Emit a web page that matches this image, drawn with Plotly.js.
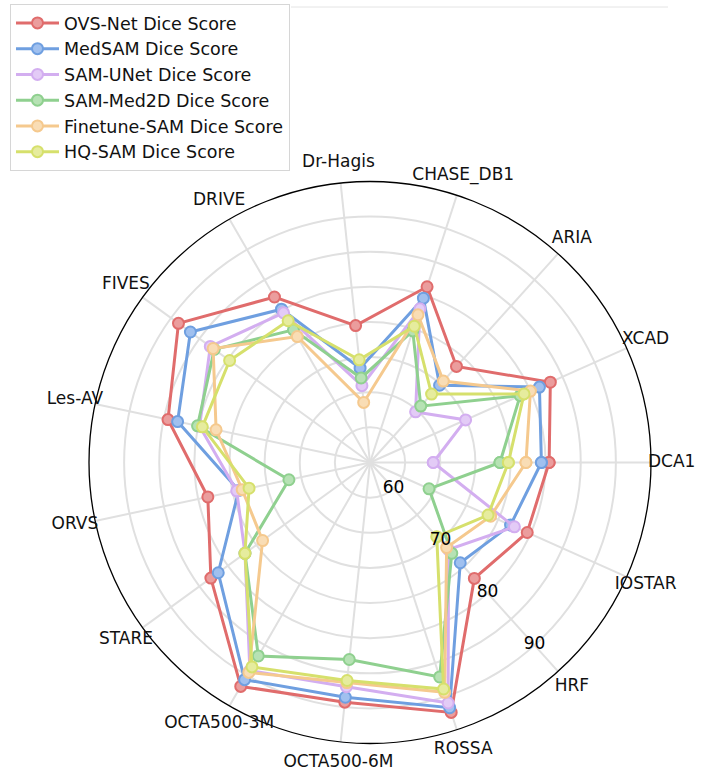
<!DOCTYPE html>
<html>
<head>
<meta charset="utf-8">
<script src="https://cdn.plot.ly/plotly-3.0.1.min.js"></script>
<style>html,body{margin:0;padding:0;background:#fff;}#chart{width:710px;height:775px;}</style>
</head>
<body>
<div id="chart"></div>
<script>
const categories = ["DCA1","XCAD","ARIA","CHASE_DB1","Dr-Hagis","DRIVE","FIVES","Les-AV","ORVS","STARE","OCTA500-3M","OCTA500-6M","ROSSA","HRF","IOSTAR"];

const ovsNet      = [80.5, 83.1, 73.4, 81.3, 74.6, 82.2, 88.7, 84.4, 78.6, 83.0, 91.8, 89.3, 92.4, 77.2, 79.5];
const medSAM      = [79.4, 81.4, 69.8, 79.6, 68.5, 80.2, 86.6, 83.0, 74.1, 81.7, 90.7, 88.6, 91.7, 74.2, 76.9];
const samUNet     = [64.0, 69.9, 64.7, 78.0, 66.0, 79.6, 83.1, 79.8, 74.4, 77.0, 89.2, 87.1, 91.0, 71.7, 77.5];
const samMed2D    = [73.5, 78.4, 65.8, 74.7, 67.1, 76.8, 82.4, 80.1, 66.8, 77.0, 86.8, 83.2, 87.1, 72.4, 64.2];
const finetuneSAM = [77.2, 80.0, 70.6, 77.1, 63.6, 75.7, 82.6, 77.4, 73.6, 73.9, 89.5, 86.5, 89.4, 71.3, 73.8];
const hqSAM       = [74.7, 79.0, 68.1, 75.4, 69.7, 78.3, 79.7, 79.4, 72.6, 77.0, 88.6, 86.2, 88.9, 69.2, 73.4];

const seriesNames = ["OVS-Net Dice Score","MedSAM Dice Score","SAM-UNet Dice Score","SAM-Med2D Dice Score","Finetune-SAM Dice Score","HQ-SAM Dice Score"];
const seriesValues = [ovsNet, medSAM, samUNet, samMed2D, finetuneSAM, hqSAM];
const lineColors = ["#e06c6c","#6f9fe0","#d3aef0","#8fd08f","#f5c98e","#d6e06c"];
const fillColors = ["#eb9d9d","#a0c0ef","#e3cbf6","#b6e2b4","#f9ddb5","#e6ec9e"];

const radialGrid = [60, 65, 70, 75, 80, 85, 90];
const radialLabels = [60, 70, 80, 90];
const radialLabelCategory = "HRF";

const R_MIN = 55, R_MAX = 95;

const traces = seriesValues.map((vals, i) => ({
  type: "scatterpolar",
  subplot: "polar",
  mode: "lines+markers",
  name: seriesNames[i],
  legendgroup: "g" + i,
  r: vals.concat([vals[0]]),
  theta: categories.concat([categories[0]]),
  line: {color: lineColors[i], width: 3},
  marker: {size: 11, color: fillColors[i], line: {color: lineColors[i], width: 2}},
  cliponaxis: false,
  hoverinfo: "skip"
}));

// radial tick labels, centred on the HRF spoke (as in the reference)
traces.push({
  type: "scatterpolar",
  subplot: "polar",
  mode: "text",
  r: radialLabels,
  theta: radialLabels.map(() => radialLabelCategory),
  text: radialLabels.map(String),
  textposition: "middle center",
  textfont: {family: "DejaVu Sans", size: 17, color: "#000"},
  showlegend: false,
  cliponaxis: false,
  hoverinfo: "skip"
});

// category names, centred on a slightly larger concentric (invisible) polar frame
traces.push({
  type: "scatterpolar",
  subplot: "polar2",
  mode: "text",
  r: categories.map(() => 1),
  theta: categories,
  text: categories,
  textposition: "middle center",
  textfont: {family: "DejaVu Sans", size: 17, color: "#111"},
  showlegend: false,
  cliponaxis: false,
  hoverinfo: "skip"
});

const hiddenAngular = {
  type: "category", categoryarray: categories, direction: "counterclockwise", rotation: 0,
  showline: false, showgrid: false, ticks: "", showticklabels: false
};

const layout = {
  width: 710,
  height: 775,
  margin: {l: 0, r: 0, t: 0, b: 0},
  paper_bgcolor: "#ffffff",
  font: {family: "DejaVu Sans", size: 16, color: "#000"},
  showlegend: true,
  legend: {
    x: 10/710, y: 1 - 4/775, xanchor: "left", yanchor: "top",
    bgcolor: "#ffffff", bordercolor: "#d6d6d6", borderwidth: 1,
    font: {family: "DejaVu Sans", size: 17.5, color: "#111"},
    traceorder: "grouped", tracegroupgap: 0,
    itemwidth: 43
  },
  polar: {
    domain: {x: [89/710, 651/710], y: [31.5/775, 593.5/775]},
    bgcolor: "#ffffff",
    angularaxis: {
      type: "category",
      categoryarray: categories,
      direction: "counterclockwise",
      rotation: 0,
      showline: true, linecolor: "#000", linewidth: 1.3,
      showgrid: true, gridcolor: "#e0e0e0", gridwidth: 2,
      ticks: "", showticklabels: false
    },
    radialaxis: {
      range: [R_MIN, R_MAX],
      angle: -48,
      tickvals: radialGrid,
      showline: false, ticks: "", showticklabels: false,
      showgrid: true, gridcolor: "#e0e0e0", gridwidth: 2
    }
  },
  polar2: {
    domain: {x: [68/710, 672/710], y: [10.5/775, 614.5/775]},
    bgcolor: "rgba(0,0,0,0)",
    angularaxis: hiddenAngular,
    radialaxis: {range: [0, 1.001], visible: false, showgrid: false, showline: false, showticklabels: false, ticks: ""}
  },
  shapes: [{type: "line", xref: "paper", yref: "paper", x0: 291/710, x1: 668/710, y0: 1 - 7/775, y1: 1 - 7/775, line: {color: "#e4e4e4", width: 1}}]
};

Plotly.newPlot("chart", traces, layout, {displayModeBar: false, staticPlot: true});
</script>
</body>
</html>
